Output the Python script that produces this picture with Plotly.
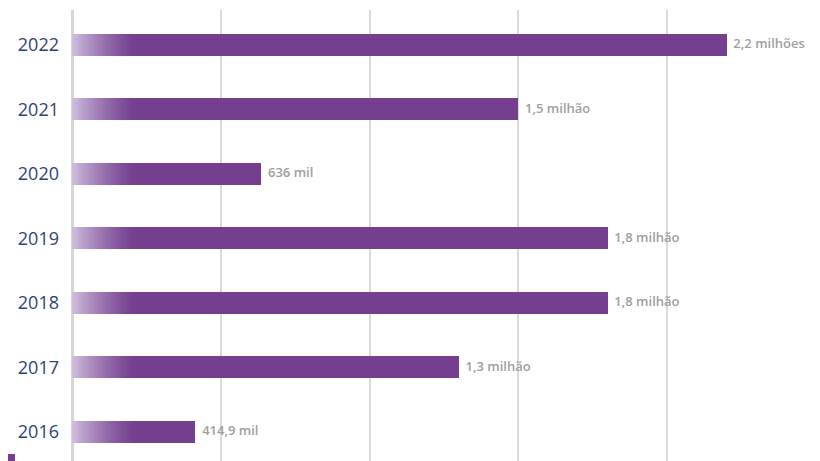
import plotly.graph_objects as go

years = ["2016", "2017", "2018", "2019", "2020", "2021", "2022"]
values = [414900, 1300000, 1800000, 1800000, 636000, 1500000, 2200000]
labels = ["414,9 mil", "1,3 milhão", "1,8 milhão", "1,8 milhão", "636 mil", "1,5 milhão", "2,2 milhões"]

BAR = (116, 63, 143)
LIGHT = (206, 190, 221)
GRAD_LEN = 215000
N_SEG = 28
BAR_W = 0.34

fig = go.Figure()
fig.add_trace(go.Bar(
    y=years, x=values, orientation="h", width=BAR_W,
    marker=dict(color="rgb(%d,%d,%d)" % BAR, line=dict(width=0)),
    hoverinfo="skip", showlegend=False,
))
seg = GRAD_LEN / N_SEG
for i in range(N_SEG):
    t = (i + 0.5) / N_SEG
    t = 1 - (1 - t) ** 1.35
    c = tuple(int(round(LIGHT[k] + (BAR[k] - LIGHT[k]) * t)) for k in range(3))
    fig.add_trace(go.Bar(
        y=years, x=[min(seg * 1.02, max(v - i * seg, 0)) for v in values],
        base=[i * seg] * len(years), orientation="h", width=BAR_W,
        marker=dict(color="rgb(%d,%d,%d)" % c, line=dict(width=0)),
        hoverinfo="skip", showlegend=False,
    ))

fig.add_trace(go.Scatter(
    y=years, x=values, mode="text", text=["\u00a0\u00a0" + s for s in labels],
    textposition="middle right", cliponaxis=False,
    textfont=dict(family="Open Sans", size=13, color="#a0a0a0", weight=600),
    hoverinfo="skip", showlegend=False,
))

# page body has an 8px margin: plot area 64..793 x, 2..453 y in figure coords
fig.add_shape(type="rect", xref="paper", yref="paper",
              x0=-64/729, x1=-57/729, y0=-0.002, y1=7/451,
              fillcolor="rgb(116,63,143)", line=dict(width=0), layer="above")

fig.update_layout(
    width=820, height=461,
    margin=dict(l=64, r=27, t=2, b=8),
    paper_bgcolor="white", plot_bgcolor="white",
    barmode="overlay", bargap=0,
    xaxis=dict(range=[0, 2450000], dtick=500000, showticklabels=False,
               showgrid=True, gridcolor="#dadada", gridwidth=1.5,
               zeroline=True, zerolinecolor="#d6d6d6", zerolinewidth=3,
               layer="above traces", automargin=False),
    yaxis=dict(type="category", range=[-0.45, 6.54], showgrid=False, zeroline=False,
               tickfont=dict(family="Open Sans", size=18, color="#33417a"),
               ticklabelstandoff=12, automargin=False),
)
fig.write_html("out.html")
